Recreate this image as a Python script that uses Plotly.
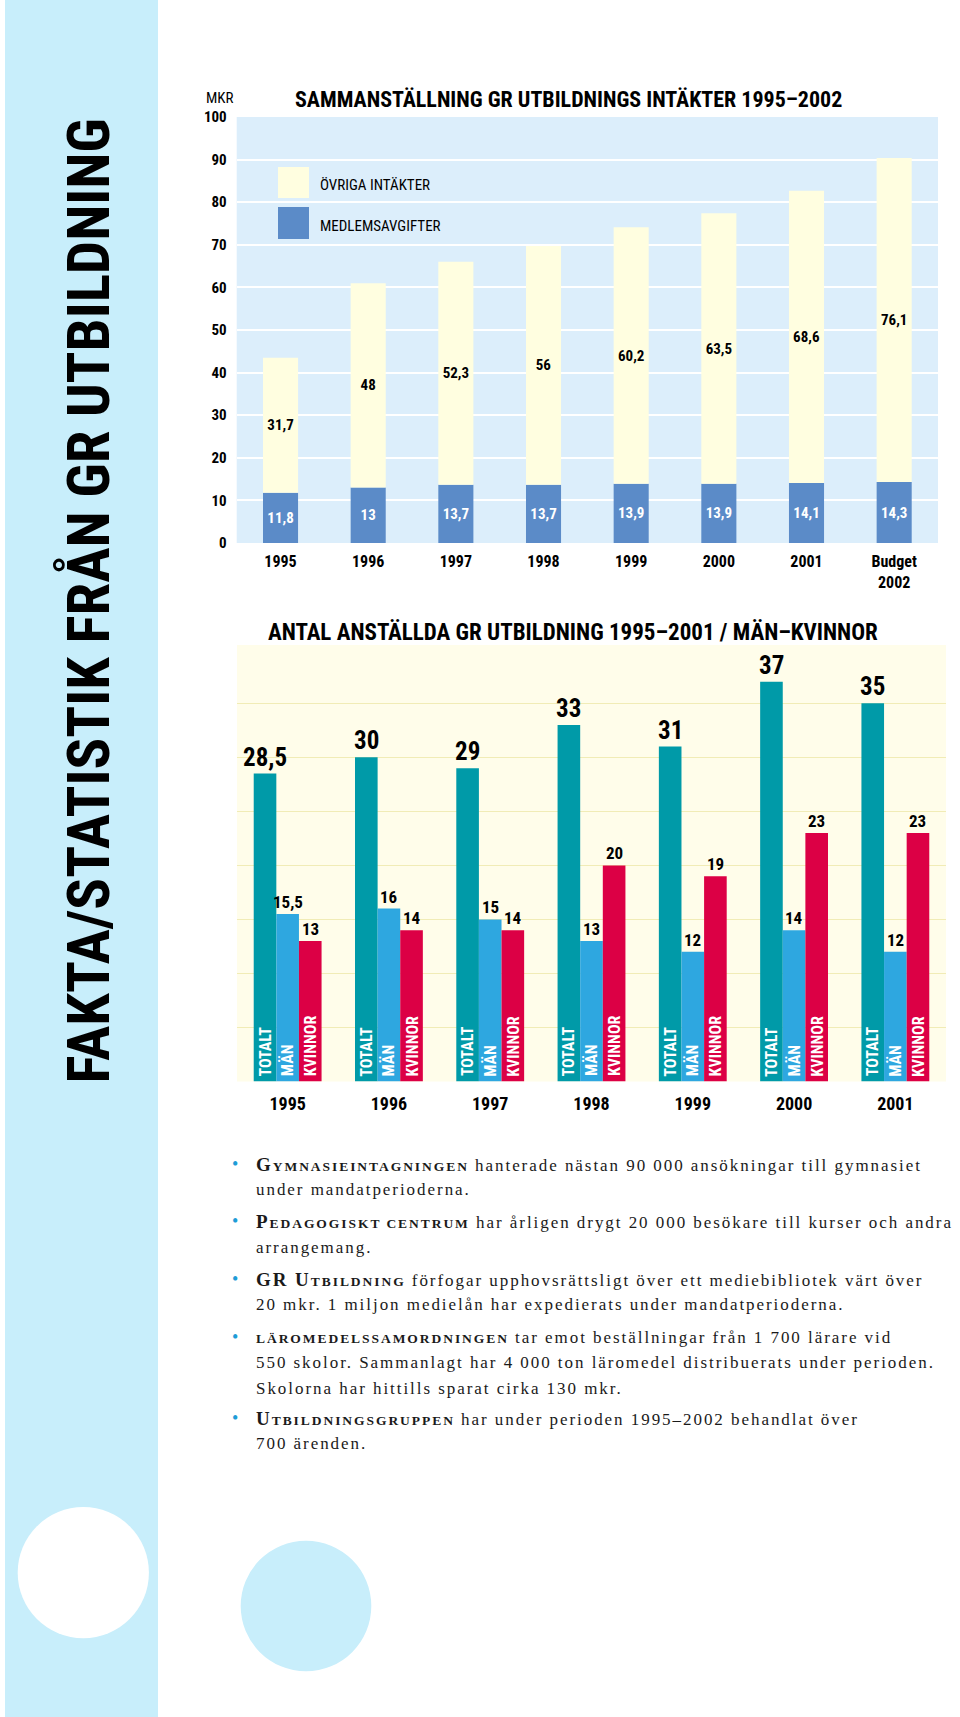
import plotly.graph_objects as go

W, H = 960, 1717

# ---------------- data ----------------
years_top = ["1995", "1996", "1997", "1998", "1999", "2000", "2001", "Budget<br>2002"]
medlemsavgifter = [11.8, 13, 13.7, 13.7, 13.9, 13.9, 14.1, 14.3]
ovriga = [31.7, 48, 52.3, 56, 60.2, 63.5, 68.6, 76.1]

years_bottom = ["1995", "1996", "1997", "1998", "1999", "2000", "2001"]
totalt = [28.5, 30, 29, 33, 31, 37, 35]
man = [15.5, 16, 15, 13, 12, 14, 12]
kvinnor = [13, 14, 14, 20, 19, 23, 23]

series_names = ["TOTALT", "MÄN", "KVINNOR"]

SC = "<span style='font-size:13.5px'>"
BIG = "<span style='font-size:19px'>"
text_lines = [
    (True, f"<b>{BIG}G</span>{SC}YMNASIEINTAGNINGEN</span></b> hanterade nästan 90 000 ansökningar till gymnasiet"),
    (False, "under mandatperioderna."),
    (True, f"<b>{BIG}P</span>{SC}EDAGOGISKT CENTRUM</span></b> har årligen drygt 20 000 besökare till kurser och andra"),
    (False, "arrangemang."),
    (True, f"<b>{BIG}GR U</span>{SC}TBILDNING</span></b> förfogar upphovsrättsligt över ett mediebibliotek värt över"),
    (False, "20 mkr. 1 miljon medielån har expedierats under mandatperioderna."),
    (True, f"<b>{SC}LÄROMEDELSSAMORDNINGEN</span></b> tar emot beställningar från 1 700 lärare vid"),
    (False, "550 skolor. Sammanlagt har 4 000 ton läromedel distribuerats under perioden."),
    (False, "Skolorna har hittills sparat cirka 130 mkr."),
    (True, f"<b>{BIG}U</span>{SC}TBILDNINGSGRUPPEN</span></b> har under perioden 1995–2002 behandlat över"),
    (False, "700 ärenden."),
]
text_line_y = [1164, 1189, 1221, 1247, 1279, 1304, 1337, 1362, 1388, 1418, 1443]

# ---------------- styles ----------------
COND = "Noto Sans Condensed, Roboto Condensed, Noto Sans, Roboto, sans-serif"
SERIF = "Liberation Serif, Times New Roman, serif"
C_BLUE = "#5B8BC8"
C_YEL = "#FFFEE0"
C_TOT = "#009AA8"
C_MAN = "#2EA7E0"
C_KV = "#DC0045"


def cond(t, bold=True):
    s = f"<span style='font-stretch:condensed'>{t}</span>"
    return f"<b>{s}</b>" if bold else s


def px(x):
    return x / W


def py(y):
    return 1 - y / H


def fmt(v):
    return f"{v:g}".replace(".", ",")


fig = go.Figure()

# top chart (stacked via base)
fig.add_trace(go.Bar(
    x=years_top, y=medlemsavgifter, xaxis="x", yaxis="y",
    name="MEDLEMSAVGIFTER", marker=dict(color=C_BLUE, line=dict(width=0)),
    width=0.4, offset=-0.2,
    text=[cond(fmt(v)) for v in medlemsavgifter], textposition="inside",
    insidetextanchor="middle", textangle=0,
    textfont=dict(color="white", size=15, family=COND),
    hoverinfo="skip",
))
fig.add_trace(go.Bar(
    x=years_top, y=ovriga, base=medlemsavgifter, xaxis="x", yaxis="y",
    name="ÖVRIGA INTÄKTER", marker=dict(color=C_YEL, line=dict(width=0)),
    width=0.4, offset=-0.2,
    text=[cond(fmt(v)) for v in ovriga], textposition="inside",
    insidetextanchor="middle", textangle=0,
    textfont=dict(color="black", size=15, family=COND),
    hoverinfo="skip",
))

# bottom chart (grouped)
bw = 0.2233
offsets = [-1.5 * bw, -0.5 * bw, 0.5 * bw]
cols = [C_TOT, C_MAN, C_KV]
vals = [totalt, man, kvinnor]
for name, v, c, off in zip(series_names, vals, cols, offsets):
    fig.add_trace(go.Bar(
        x=years_bottom, y=v, xaxis="x2", yaxis="y2", name=name,
        marker=dict(color=c, line=dict(width=0)), width=bw, offset=off,
        hoverinfo="skip",
    ))

annotations = []
shapes = []

# sidebar
shapes.append(dict(type="rect", xref="paper", yref="paper", x0=px(5), x1=px(158), y0=0, y1=1,
                   fillcolor="#C8EEFB", line=dict(width=0), layer="below"))
shapes.append(dict(type="circle", xref="paper", yref="paper",
                   x0=px(83.3 - 65.6), x1=px(83.3 + 65.6), y0=py(1572.7 + 65.6), y1=py(1572.7 - 65.6),
                   fillcolor="white", line=dict(width=0), layer="below"))
shapes.append(dict(type="circle", xref="paper", yref="paper",
                   x0=px(306 - 65.3), x1=px(306 + 65.3), y0=py(1606 + 65.3), y1=py(1606 - 65.3),
                   fillcolor="#C8EEFB", line=dict(width=0), layer="below"))
annotations.append(dict(xref="paper", yref="paper", x=px(87.5), y=py(601), xanchor="center", yanchor="middle",
                        text=cond("FAKTA/STATISTIK FRÅN GR UTBILDNING"),
                        textangle=-90, showarrow=False, font=dict(family=COND, size=59, color="black")))

# plot backgrounds
shapes.append(dict(type="rect", xref="x domain", yref="y domain", x0=0, x1=1, y0=0, y1=1,
                   fillcolor="#DCEEFB", line=dict(width=0), layer="below"))
shapes.append(dict(type="rect", xref="x2 domain", yref="y2 domain", x0=0, x1=1, y0=0, y1=1.01,
                   fillcolor="#FFFDEA", line=dict(width=0), layer="below"))

# legend (top chart)
shapes.append(dict(type="rect", xref="paper", yref="paper", x0=px(278), x1=px(309), y0=py(198), y1=py(167),
                   fillcolor=C_YEL, line=dict(width=0)))
shapes.append(dict(type="rect", xref="paper", yref="paper", x0=px(278), x1=px(309), y0=py(239), y1=py(207),
                   fillcolor=C_BLUE, line=dict(width=0)))
annotations.append(dict(xref="paper", yref="paper", x=px(318), y=py(185), xanchor="left", yanchor="middle",
                        text=cond("ÖVRIGA INTÄKTER", bold=False), showarrow=False,
                        font=dict(family=COND, size=15, color="black")))
annotations.append(dict(xref="paper", yref="paper", x=px(318), y=py(226), xanchor="left", yanchor="middle",
                        text=cond("MEDLEMSAVGIFTER", bold=False), showarrow=False,
                        font=dict(family=COND, size=15, color="black")))

# titles
annotations.append(dict(xref="paper", yref="paper", x=px(568), y=py(100), xanchor="center", yanchor="middle",
                        text=cond("SAMMANSTÄLLNING GR UTBILDNINGS INTÄKTER 1995–2002"), showarrow=False,
                        font=dict(family=COND, size=22, color="black")))
annotations.append(dict(xref="paper", yref="paper", x=px(220), y=py(98), xanchor="center", yanchor="middle",
                        text=cond("MKR", bold=False), showarrow=False, font=dict(family=COND, size=15, color="black")))
annotations.append(dict(xref="paper", yref="paper", x=px(573), y=py(632), xanchor="center", yanchor="middle",
                        text=cond("ANTAL ANSTÄLLDA GR UTBILDNING 1995–2001 / MÄN–KVINNOR"), showarrow=False,
                        font=dict(family=COND, size=23, color="black")))

# bottom chart value labels and inside labels (x as category index)
cat_px = (946 - 237) / 7.0
for name, v, off in zip(series_names, vals, offsets):
    shift = (off + bw / 2) * cat_px
    big = name == "TOTALT"
    for i, val in enumerate(v):
        annotations.append(dict(
            xref="x2", yref="y2", x=i, y=val, xshift=shift, yshift=0,
            yanchor="bottom", showarrow=False, text=cond(fmt(val)),
            font=dict(family=COND, size=25 if big else 17, color="black")))
        annotations.append(dict(
            xref="x2", yref="y2", x=i, y=0, xshift=shift, yshift=3, textangle=-90,
            yanchor="bottom", showarrow=False, text=cond(name),
            font=dict(family=COND, size=16, color="white")))

# text block
for (bullet, txt), yy in zip(text_lines, text_line_y):
    if bullet:
        annotations.append(dict(xref="paper", yref="paper", x=px(235), y=py(yy), xanchor="center", yanchor="middle",
                                text="•", showarrow=False, font=dict(family=SERIF, size=18, color="#1E9CD7")))
    annotations.append(dict(xref="paper", yref="paper", x=px(254), y=py(yy), xanchor="left", yanchor="middle",
                            text=f"<span style='letter-spacing:1.95px'>{txt}</span>", showarrow=False,
                            font=dict(family=SERIF, size=17, color="#1a1a1a")))

pre = "<b><span style='font-stretch:condensed'>"
suf = "</span></b>"
fig.update_layout(
    width=W, height=H, margin=dict(l=0, r=0, t=0, b=0, pad=0, autoexpand=False),
    paper_bgcolor="white", plot_bgcolor="rgba(0,0,0,0)",
    showlegend=False, barmode="group", bargap=0.33, bargroupgap=0,
    xaxis=dict(domain=[px(236.7), px(938)], anchor="y", type="category", range=[-0.5, 7.5],
               showgrid=False, zeroline=False, automargin=False,
               showline=False, ticks="outside", ticklen=4, tickcolor="rgba(0,0,0,0)",
               tickfont=dict(family=COND, size=16, color="black"), tickprefix=pre, ticksuffix=suf,
               fixedrange=True),
    yaxis=dict(domain=[py(543), py(117)], anchor="x", range=[0, 100], dtick=10, showgrid=True,
               gridcolor="white", gridwidth=2, zeroline=False, showline=False, automargin=False,
               ticks="outside", ticklen=6, tickcolor="rgba(0,0,0,0)",
               tickfont=dict(family=COND, size=15, color="black"), tickprefix=pre, ticksuffix=suf,
               fixedrange=True),
    xaxis2=dict(domain=[px(237), px(946)], anchor="y2", type="category", range=[-0.5, 6.5],
                showgrid=False, zeroline=False, automargin=False,
                showline=False, ticks="outside", ticklen=6, tickcolor="rgba(0,0,0,0)",
                tickfont=dict(family=COND, size=18, color="black"), tickprefix=pre, ticksuffix=suf,
                fixedrange=True),
    yaxis2=dict(domain=[py(1081.5), py(649.3)], anchor="x2", range=[0, 40], dtick=5, showgrid=True,
                gridcolor="#F1ECB6", gridwidth=1, zeroline=False, showline=False, showticklabels=False,
                automargin=False, fixedrange=True),
    annotations=annotations, shapes=shapes,
)

fig.write_html("out.html", config={"displayModeBar": False},
               post_script="document.body.style.margin='0';")
